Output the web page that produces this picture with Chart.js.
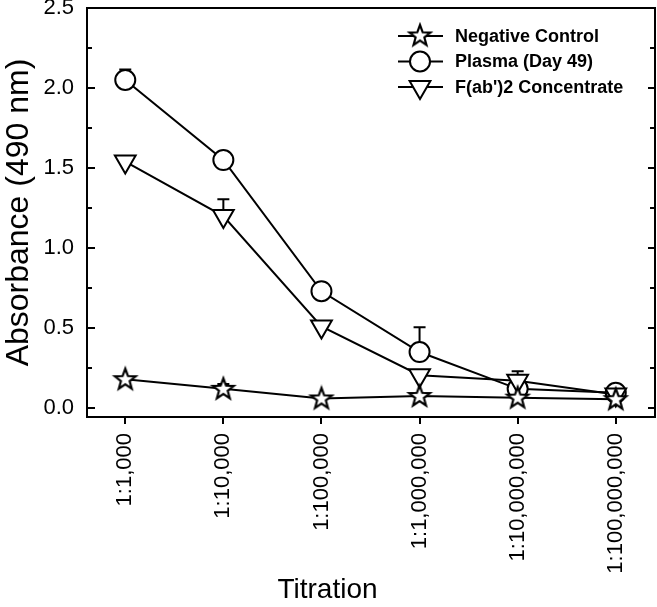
<!DOCTYPE html>
<html><head><meta charset="utf-8">
<script src="https://cdn.jsdelivr.net/npm/chart.js@4/dist/chart.umd.min.js"></script>
<style>html,body{margin:0;padding:0;background:#fff}canvas{display:block}</style>
</head><body>
<canvas id="c" width="657" height="607"></canvas>
<script>
const categories = ['1:1,000','1:10,000','1:100,000','1:1,000,000','1:10,000,000','1:100,000,000'];
const seriesNames = ['Negative Control','Plasma (Day 49)',"F(ab')2 Concentrate"];
const negativeControl = [0.18, 0.12, 0.06, 0.075, 0.065, 0.055];
const negativeErr     = [0, 0.03, 0, 0, 0, 0];
const plasma          = [2.05, 1.55, 0.73, 0.35, 0.12, 0.095];
const plasmaErr       = [0.065, 0, 0, 0.155, 0, 0];
const fab2            = [1.54, 1.20, 0.51, 0.205, 0.17, 0.085];
const fab2Err         = [0, 0.105, 0, 0, 0.06, 0];
const yTicks = [0, 0.5, 1.0, 1.5, 2.0, 2.5];
const yMinorTicks = [0.25, 0.75, 1.25, 1.75, 2.25];

const FONT = "'Liberation Sans', Arial, Helvetica, sans-serif";

function makeStar(){
  const c = document.createElement('canvas');
  c.width = 28; c.height = 28;
  const g = c.getContext('2d');
  const cx = 14, cy = 14.5, R = 11, r = 4.6;
  g.beginPath();
  for (let k = 0; k < 10; k++) {
    const rad = k % 2 === 0 ? R : r;
    const a = -Math.PI/2 + k*Math.PI/5;
    const px = cx + rad*Math.cos(a), py = cy + rad*Math.sin(a);
    k === 0 ? g.moveTo(px, py) : g.lineTo(px, py);
  }
  g.closePath();
  g.fillStyle = '#fff'; g.fill();
  g.lineWidth = 2.2; g.strokeStyle = '#000'; g.lineJoin = 'miter'; g.stroke();
  return c;
}
const starImg = makeStar();

const toXY = arr => arr.map((v, i) => ({x: i, y: v}));
const errs = [negativeErr, plasmaErr, fab2Err];

const errorBars = {
  id: 'errorBars',
  beforeDatasetsDraw(chart){
    const ctx = chart.ctx, xs = chart.scales.x, ys = chart.scales.y;
    ctx.save();
    ctx.strokeStyle = '#000'; ctx.lineWidth = 2;
    chart.data.datasets.forEach((ds, di) => {
      const e = errs[di];
      ds.data.forEach((p, i) => {
        if (!e[i]) return;
        const x = xs.getPixelForValue(p.x);
        const y0 = ys.getPixelForValue(p.y), y1 = ys.getPixelForValue(p.y + e[i]);
        ctx.beginPath();
        ctx.moveTo(x, y0); ctx.lineTo(x, y1);
        ctx.moveTo(x - 6, y1); ctx.lineTo(x + 6, y1);
        ctx.stroke();
      });
    });
    ctx.restore();
  }
};

const frame = {
  id: 'frame',
  afterDatasetsDraw(chart){
    const ctx = chart.ctx, a = chart.chartArea, ys = chart.scales.y;
    ctx.save();
    ctx.strokeStyle = '#000'; ctx.lineWidth = 2;
    ctx.strokeRect(a.left, a.top, a.right - a.left, a.bottom - a.top);
    ctx.beginPath();
    yTicks.forEach(v => {
      const y = Math.round(ys.getPixelForValue(v));
      ctx.moveTo(a.left, y); ctx.lineTo(a.left + 8, y);
      ctx.moveTo(a.right, y); ctx.lineTo(a.right - 7, y);
    });
    yMinorTicks.forEach(v => {
      const y = Math.round(ys.getPixelForValue(v));
      ctx.moveTo(a.left, y); ctx.lineTo(a.left + 5, y);
      ctx.moveTo(a.right, y); ctx.lineTo(a.right - 5, y);
    });
    ctx.stroke();
    ctx.restore();
  }
};

function drawMarker(ctx, kind, x, y){
  ctx.save();
  ctx.fillStyle = '#fff'; ctx.strokeStyle = '#000'; ctx.lineWidth = 2;
  if (kind === 'star') {
    ctx.drawImage(starImg, x - 14, y - 14.5);
  } else if (kind === 'circle') {
    ctx.beginPath(); ctx.arc(x, y, 10, 0, Math.PI*2); ctx.fill(); ctx.stroke();
  } else {
    const r = 12;
    ctx.beginPath();
    ctx.moveTo(x, y + r);
    ctx.lineTo(x - r*Math.sin(Math.PI/3), y - r/2);
    ctx.lineTo(x + r*Math.sin(Math.PI/3), y - r/2);
    ctx.closePath(); ctx.fill(); ctx.stroke();
  }
  ctx.restore();
}

const legendBox = {
  id: 'legendBox',
  afterDraw(chart){
    const ctx = chart.ctx, a = chart.chartArea;
    const kinds = ['star', 'circle', 'triangle'];
    const x0 = a.right - 257, x1 = a.right - 212, xm = a.right - 235, xt = a.right - 200;
    ctx.save();
    seriesNames.forEach((name, i) => {
      const y = a.top + 28 + i*25.5;
      ctx.strokeStyle = '#000'; ctx.lineWidth = 2;
      ctx.beginPath(); ctx.moveTo(x0, y); ctx.lineTo(x1, y); ctx.stroke();
      drawMarker(ctx, kinds[i], xm, y);
      ctx.fillStyle = '#000';
      ctx.font = "bold 18px " + FONT;
      ctx.textBaseline = 'middle'; ctx.textAlign = 'left';
      ctx.fillText(name, xt, y + 1);
    });
    ctx.restore();
  }
};

const common = {
  borderColor: '#000', borderWidth: 2, tension: 0, showLine: true,
  pointBackgroundColor: '#fff', pointBorderColor: '#000', pointBorderWidth: 2,
  pointHoverRadius: 10
};

const noPad = s => { s.paddingTop = 0; s.paddingBottom = 0; s.paddingLeft = 0; s.paddingRight = 0; };

new Chart(document.getElementById('c'), {
  type: 'line',
  data: {
    datasets: [
      Object.assign({}, common, {label: seriesNames[0], data: toXY(negativeControl), pointStyle: starImg, pointRadius: 11, order: 0}),
      Object.assign({}, common, {label: seriesNames[1], data: toXY(plasma), pointStyle: 'circle', pointRadius: 10, order: 2}),
      Object.assign({}, common, {label: seriesNames[2], data: toXY(fab2), pointStyle: 'triangle', pointRotation: 180, pointRadius: 12, order: 1})
    ]
  },
  options: {
    responsive: false, animation: false, devicePixelRatio: 1,
    layout: {autoPadding: false, padding: {top: 8, right: 2, left: 0, bottom: 0}},
    plugins: {
      legend: {display: false}, tooltip: {enabled: false},
      title: {display: true, position: 'bottom', text: 'Titration', color: '#000',
        font: {family: FONT, size: 28, weight: 'normal'}, padding: {top: 0, bottom: 0}}
    },
    scales: {
      x: {
        type: 'linear', min: -0.39, max: 5.4,
        afterBuildTicks: s => { s.ticks = categories.map((c, i) => ({value: i})); },
        ticks: {autoSkip: false, minRotation: 90, maxRotation: 90, color: '#000',
          font: {family: FONT, size: 22}, padding: 9,
          callback: v => categories[v]},
        grid: {display: true, drawOnChartArea: false, drawTicks: true, tickLength: 7, lineWidth: 2, color: '#000'},
        border: {display: false},
        afterFit: s => { s.height = 156.4; noPad(s); }
      },
      y: {
        min: -0.056, max: 2.5,
        afterBuildTicks: s => { s.ticks = yTicks.map(v => ({value: v})); },
        ticks: {color: '#000', font: {family: FONT, size: 22}, padding: 13, callback: v => Number(v).toFixed(1)},
        grid: {display: false, drawTicks: false},
        border: {display: false},
        title: {display: true, text: 'Absorbance (490 nm)', color: '#000', font: {family: FONT, size: 32}, padding: {top: 0, bottom: 0}},
        afterFit: s => { s.width = 87; noPad(s); }
      }
    }
  },
  plugins: [errorBars, frame, legendBox]
});
</script>
</body></html>
